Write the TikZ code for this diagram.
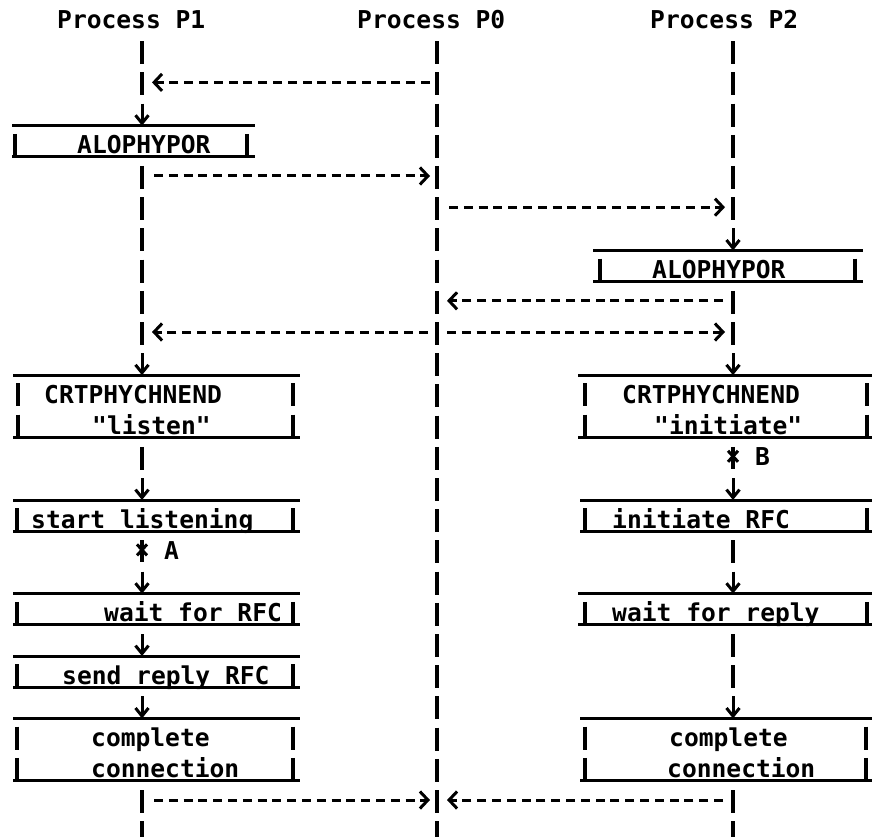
\documentclass[tikz,border=0pt]{standalone}
\usepackage{fontspec}
\newfontfamily\twfont{DejaVu Sans Mono}
\usetikzlibrary{arrows.meta}
\begin{document}
\begin{tikzpicture}[x=1pt,y=-1pt,
  txt/.style={font=\twfont\bfseries\fontsize{24.6pt}{28pt}\selectfont, inner sep=0pt, anchor=base west},
  ln/.style={line width=3pt},
  life/.style={line width=3.3pt},
  msg/.style={line width=3pt, dash pattern=on 9pt off 5.8pt, -{Straight Barb[length=8pt,width=17pt]}},
  down/.style={line width=3pt, -{Straight Barb[length=8pt,width=13pt]}},
  boxn/.style={inner sep=0pt, outer sep=0pt, anchor=north west}
]
\useasboundingbox (0,0) rectangle (872,837);

% row coordinates on the three lifelines
\foreach \k in {0,...,26} {
  \coordinate (A\k) at (142,{20+31.2*\k});
  \coordinate (B\k) at (437,{20+31.2*\k});
  \coordinate (C\k) at (733,{20+31.2*\k});
}

% titles
\node[txt] (tP1) at (57,29) {Process P1};
\node[txt] (tP0) at (357,29) {Process P0};
\node[txt] (tP2) at (650,29) {Process P2};

% lifeline segments
\foreach \k in {1,2,5,6,7,8,9,10,14,25,26}
  \draw[life] ([yshift=10pt]A\k) -- ++(0,23);
\foreach \k in {1,...,26}
  \draw[life] ([yshift=10pt]B\k) -- ++(0,23);
\foreach \k in {1,2,3,4,5,6,9,10,17,20,21,25,26}
  \draw[life] ([yshift=10pt]C\k) -- ++(0,23);

% boxes: P1
\node[boxn, minimum width=243pt, minimum height=31.2pt] (b1) at (12,125.6) {};
\node[boxn, minimum width=287pt, minimum height=62.4pt] (b2) at (13,375.2) {};
\node[boxn, minimum width=287pt, minimum height=31.2pt] (b3) at (13,500) {};
\node[boxn, minimum width=287pt, minimum height=31.2pt] (b4) at (13,593.6) {};
\node[boxn, minimum width=287pt, minimum height=31.2pt] (b5) at (13,656) {};
\node[boxn, minimum width=287pt, minimum height=62.4pt] (b6) at (13,718.4) {};
% boxes: P2
\node[boxn, minimum width=270pt, minimum height=31.2pt] (b7) at (593,250.4) {};
\node[boxn, minimum width=294pt, minimum height=62.4pt] (b8) at (578,375.2) {};
\node[boxn, minimum width=292pt, minimum height=31.2pt] (b9) at (580,500) {};
\node[boxn, minimum width=294pt, minimum height=31.2pt] (b10) at (578,593.6) {};
\node[boxn, minimum width=292pt, minimum height=62.4pt] (b11) at (580,718.4) {};

\foreach \b in {b1,b2,b3,b4,b5,b6,b7,b8,b9,b10,b11}
  \draw[ln] (\b.north west) -- (\b.north east) (\b.south west) -- (\b.south east);

% side bars of the boxes (one per text row)
\foreach \xl/\xr/\k in {15/247/4, 18/293/12, 18/293/13, 17/293/16, 17/293/19, 17/293/21, 17/293/23, 17/293/24,
                        600/855/8, 585/867/12, 585/867/13, 585/867/16, 585/867/19, 585/866/23, 585/866/24} {
  \draw[life] (\xl,{20+31.2*\k-11}) -- ++(0,23);
  \draw[life] (\xr,{20+31.2*\k-11}) -- ++(0,23);
}

% box texts
\node[txt] (x1) at (77,153.8) {ALOPHYPOR};
\node[txt] (x2) at (44,403.4) {CRTPHYCHNEND};
\node[txt] (x3) at (92,434.6) {"listen"};
\node[txt] (x4) at (31,528.2) {start listening};
\node[txt] (x5) at (104,621.8) {wait for RFC};
\node[txt] (x6) at (62,684.2) {send reply RFC};
\node[txt] (x7) at (91,746.6) {complete};
\node[txt] (x8) at (91,777.8) {connection};
\node[txt] (x9) at (652,278.6) {ALOPHYPOR};
\node[txt] (x10) at (622,403.4) {CRTPHYCHNEND};
\node[txt] (x11) at (654,434.6) {"initiate"};
\node[txt] (x12) at (612,528.2) {initiate RFC};
\node[txt] (x13) at (612,621.8) {wait for reply};
\node[txt] (x14) at (669,746.6) {complete};
\node[txt] (x15) at (667,777.8) {connection};

% down arrows into boxes
\draw[down] ([yshift=10pt]A3) -- (A3 |- b1.north);
\draw[down] ([yshift=10pt]A11) -- (A11 |- b2.north);
\draw[down] ([yshift=10pt]A15) -- (A15 |- b3.north);
\draw[down] ([yshift=10pt]A18) -- (A18 |- b4.north);
\draw[down] ([yshift=10pt]A20) -- (A20 |- b5.north);
\draw[down] ([yshift=10pt]A22) -- (A22 |- b6.north);
\draw[down] ([yshift=10pt]C7) -- (C7 |- b7.north);
\draw[down] ([yshift=10pt]C11) -- (C11 |- b8.north);
\draw[down] ([yshift=10pt]C15) -- (C15 |- b9.north);
\draw[down] ([yshift=10pt]C18) -- (C18 |- b10.north);
\draw[down] ([yshift=10pt]C22) -- (C22 |- b11.north);

% break marks A and B
\foreach \p/\lab in {A17/A, C14/B} {
  \draw[life] ([yshift=10pt]\p) -- ++(0,22);
  \draw[ln] ([shift={(-5pt,6pt)}]\p) -- ([shift={(5pt,-5pt)}]\p);
  \draw[ln] ([shift={(-5pt,-5pt)}]\p) -- ([shift={(5pt,6pt)}]\p);
  \node[txt] at ([shift={(22pt,-9pt)}]\p) {\lab};
}

% messages
\draw[msg] ([xshift=-7pt]B2) -- ([xshift=10pt]A2);
\draw[msg] ([xshift=12pt]A5) -- ([xshift=-7pt]B5);
\draw[msg] ([xshift=12pt]B6) -- ([xshift=-8pt]C6);
\draw[msg] ([xshift=-10pt]C9) -- ([xshift=10pt]B9);
\draw[msg] ([xshift=-9pt]B10) -- ([xshift=10pt]A10);
\draw[msg] ([xshift=10pt]B10) -- ([xshift=-8pt]C10);
\draw[msg] ([xshift=12pt]A25) -- ([xshift=-7pt]B25);
\draw[msg] ([xshift=-10pt]C25) -- ([xshift=10pt]B25);
\end{tikzpicture}
\end{document}
